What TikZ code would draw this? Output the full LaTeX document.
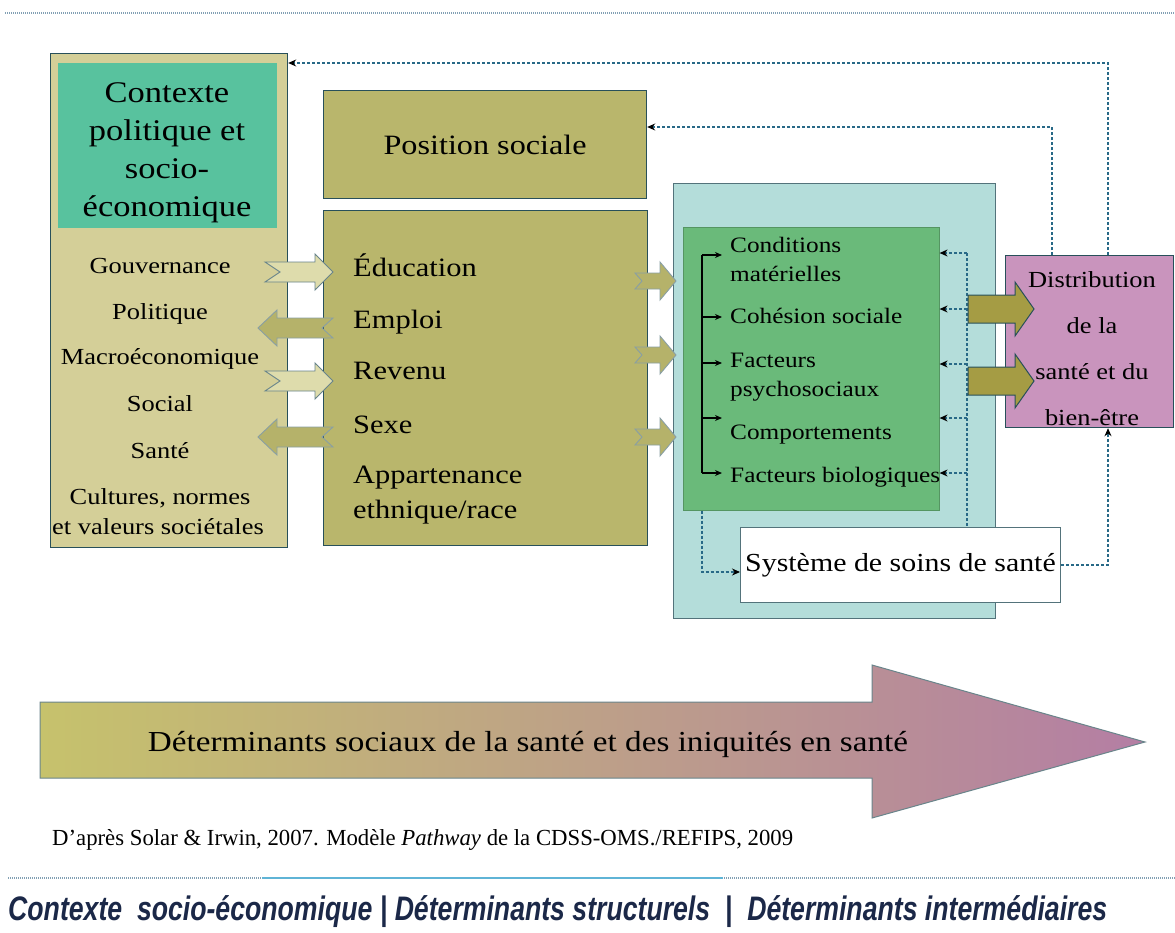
\documentclass[tikz,border=0pt]{standalone}
\usepackage{fontspec}
\usepackage{graphicx}
\setmainfont{Liberation Serif}[FakeStretch=1.15]
\newfontfamily\capfont{Liberation Serif}
\newfontfamily\botfont{Liberation Sans}
\usetikzlibrary{arrows.meta}
\definecolor{ctxfill}{RGB}{212,207,152}
\definecolor{tealc}{RGB}{88,194,158}
\definecolor{olive}{RGB}{185,182,108}
\definecolor{lightarr}{RGB}{222,220,172}
\definecolor{darkarr}{RGB}{181,178,106}
\definecolor{aqua}{RGB}{180,221,218}
\definecolor{greenc}{RGB}{106,186,122}
\definecolor{bigolive}{RGB}{165,156,68}
\definecolor{purplec}{RGB}{201,148,189}
\definecolor{bord}{RGB}{40,80,90}
\definecolor{dashc}{RGB}{40,105,135}
\definecolor{gradL}{RGB}{198,194,108}
\definecolor{gradM}{RGB}{196,176,118}
\definecolor{gradR}{RGB}{180,126,164}
\definecolor{lineg}{RGB}{130,160,180}
\definecolor{lineb}{RGB}{95,180,214}
\definecolor{navy}{RGB}{27,40,72}
\newcommand\fsz[1]{\fontsize{#1}{#1}\selectfont}
% #1 style, #2 tail x, #3 tip x, #4 y, #5 body half, #6 head half, #7 head length, #8 notch, #9 direction
\newcommand\blkarrow[9]{%
  \draw[#1] ({#2},{#4-#5}) -- ({#3-(#9)*#7},{#4-#5}) -- ({#3-(#9)*#7},{#4-#6}) -- ({#3},{#4})
    -- ({#3-(#9)*#7},{#4+#6}) -- ({#3-(#9)*#7},{#4+#5}) -- ({#2},{#4+#5}) -- ({#2+(#9)*#8},{#4}) -- cycle;}
\begin{document}
\begin{tikzpicture}[x=1pt,y=-1pt,
  box/.style={anchor=north west, inner sep=0pt, line width=1.2pt, draw=bord},
  txt/.style={inner sep=0pt, text height=1.4em, text depth=0.2em},
  dsh/.style={draw=dashc, line width=1.1pt, dash pattern=on 3pt off 2pt},
  dsharr/.style={dsh, -{Stealth[length=8pt,width=7pt,black]}},
  solarr/.style={line width=1.1pt, -{Stealth[length=7pt,width=6pt]}},
  lightA/.style={fill=lightarr, draw=bord!70, line width=0.9pt},
  darkA/.style={fill=darkarr, draw=bord!55, line width=0.9pt},
  bigA/.style={fill=bigolive, draw=bord, line width=1pt},
]
\fill[white] (0,0) rectangle (1175,932);
\useasboundingbox (0,0) rectangle (1175,932);

% top rule
\draw[draw=lineg, line width=1.5pt, dash pattern=on 1pt off 1pt] (5,13) -- (1175,13);

% context column
\node[box, fill=ctxfill, minimum width=237pt, minimum height=494pt] (ctx) at (50,53) {};
\node[anchor=north west, inner sep=0pt, fill=tealc, minimum width=219pt, minimum height=165pt] (tealbox) at (58,63) {};
\node[align=center, inner sep=0pt, font=\fontsize{30}{38}\selectfont] (ctxtitle) at (167,153) {Contexte\\politique et\\socio-\\économique};
\node[txt, font=\fsz{23}] (c1) at (160,267) {Gouvernance};
\node[txt, font=\fsz{23}] (c2) at (160,313) {Politique};
\node[txt, font=\fsz{23}] (c3) at (160,358) {Macroéconomique};
\node[txt, font=\fsz{23}] (c4) at (160,405) {Social};
\node[txt, font=\fsz{23}] (c5) at (160,452) {Santé};
\node[txt, font=\fsz{23}] (c6) at (160,498) {Cultures, normes};
\node[txt, font=\fsz{23}] (c7) at (158,528) {et valeurs sociétales};

% structural
\node[box, fill=olive, minimum width=323pt, minimum height=108pt, font=\fsz{28}] (pos) at (323,90) {Position sociale};
\node[box, fill=olive, minimum width=324pt, minimum height=335pt] (struct) at (323,210) {};
\node[txt, anchor=west, font=\fsz{26.5}] (s1) at (353,270) {Éducation};
\node[txt, anchor=west, font=\fsz{26.5}] (s2) at (353,322) {Emploi};
\node[txt, anchor=west, font=\fsz{26.5}] (s3) at (353,373) {Revenu};
\node[txt, anchor=west, font=\fsz{26.5}] (s4) at (353,427) {Sexe};
\node[txt, anchor=west, font=\fsz{26.5}] (s5) at (353,477) {Appartenance};
\node[txt, anchor=west, font=\fsz{26.5}] (s6) at (353,512) {ethnique/race};

% arrows context <-> structural
\blkarrow{lightA}{265}{333}{272}{10}{18}{18}{15}{1}
\blkarrow{darkA}{333}{258}{328}{10}{18}{19}{11}{-1}
\blkarrow{lightA}{265}{333}{381}{10}{18}{18}{15}{1}
\blkarrow{darkA}{333}{258}{437}{10}{18}{19}{11}{-1}

% intermediate
\node[box, fill=aqua, draw=bord!80, line width=1pt, minimum width=322pt, minimum height=435pt] (inter) at (673,183) {};
\node[anchor=north west, inner sep=0pt, fill=greenc, draw=greenc!80!black, line width=0.6pt, minimum width=256pt, minimum height=283pt] (green) at (683,227) {};
\node[txt, anchor=west, font=\fsz{22}] (g1) at (730,246) {Conditions};
\node[txt, anchor=west, font=\fsz{22}] (g2) at (730,275) {matérielles};
\node[txt, anchor=west, font=\fsz{22}] (g3) at (730,317) {Cohésion sociale};
\node[txt, anchor=west, font=\fsz{22}] (g4) at (730,361) {Facteurs};
\node[txt, anchor=west, font=\fsz{22}] (g5) at (730,390) {psychosociaux};
\node[txt, anchor=west, font=\fsz{22}] (g6) at (730,433) {Comportements};
\node[txt, anchor=west, font=\fsz{22}] (g7) at (730,476) {Facteurs biologiques};

% arrows structural -> intermediate
\blkarrow{darkA}{635}{676}{281}{8}{19}{16}{7}{1}
\blkarrow{darkA}{635}{676}{355}{8}{19}{16}{7}{1}
\blkarrow{darkA}{635}{676}{437}{8}{19}{16}{7}{1}

% health system
\node[box, fill=white, draw=bord!80, line width=1pt, minimum width=320pt, minimum height=75pt, font=\fsz{26}] (soins) at (740,527) {Système de soins de santé};

% outcome
\node[box, fill=purplec, minimum width=168pt, minimum height=172pt] (purple) at (1005,255) {};
\node[align=center, inner sep=0pt, font=\fontsize{23}{46}\selectfont] (ptext) at (1092,349) {Distribution\\de la\\santé et du\\bien-être};

% solid arrows inside green box
\foreach \yy [count=\i] in {255,317,363,418,473} {
  \coordinate (sa\i) at (702,\yy);
  \coordinate (sb\i) at (722,\yy);
  \draw[solarr] (sa\i) -- (sb\i);
}
\draw[line width=1.1pt] (sa1) -- (sa5);

% dashed feedback to factors
\foreach \yy [count=\i] in {253,309,364,418,473} {
  \coordinate (dv\i) at (967,\yy);
  \draw[dsharr] (dv\i) -- (green.east |- dv\i);
}
\draw[dsh] (dv1) -- (dv1 |- soins.north);

% big arrows intermediate -> outcome
\blkarrow{bigA}{968}{1034}{309}{14}{27}{19}{0}{1}
\blkarrow{bigA}{968}{1034}{381}{14}{27}{19}{0}{1}

% dashed connectors
\coordinate (topy) at (0,63);
\coordinate (posy) at (0,127);
\coordinate (fbx1) at (1108,0);
\coordinate (fbx2) at (1052,0);
\coordinate (gx) at (702,572);
\draw[dsharr] (purple.north -| fbx1) |- (ctx.east |- topy);
\draw[dsharr] (purple.north -| fbx2) |- (pos.east |- posy);
\draw[dsharr] (soins.east) -| (purple.south -| fbx1);
\draw[dsharr] (green.south -| gx) |- (soins.west |- gx);

% big gradient arrow
\shade[left color=gradL, middle color=gradM, right color=gradR]
  (40,702) -- (872,702) -- (872,665) -- (1145,742) -- (872,818) -- (872,778) -- (40,778) -- cycle;
\draw[bord!70, line width=1pt]
  (40,702) -- (872,702) -- (872,665) -- (1145,742) -- (872,818) -- (872,778) -- (40,778) -- cycle;
\node[inner sep=0pt] (bigtxt) at (528,744) {\resizebox{760pt}{\height}{\fsz{29}Déterminants sociaux de la santé et des iniquités en santé}};

% caption
\node[inner sep=0pt, anchor=west] (caption) at (52,840) {\resizebox{741pt}{\height}{\capfont\fsz{23}D’après Solar \& Irwin, 2007. Modèle \textit{Pathway} de la CDSS-OMS./REFIPS, 2009}};

% bottom rule
\draw[draw=lineg, line width=1.5pt, dash pattern=on 1pt off 1pt] (8,878) -- (1175,878);
\draw[draw=lineb, line width=1.6pt] (262,878) -- (723,878);

% bottom text
\node[inner sep=0pt, anchor=west, text=navy] (bottom) at (8,912) {\resizebox{1099pt}{\height}{\botfont\bfseries\itshape\fsz{34}Contexte\ \ socio-économique | Déterminants structurels\ \ |\ \ Déterminants intermédiaires}};
\end{tikzpicture}
\end{document}
